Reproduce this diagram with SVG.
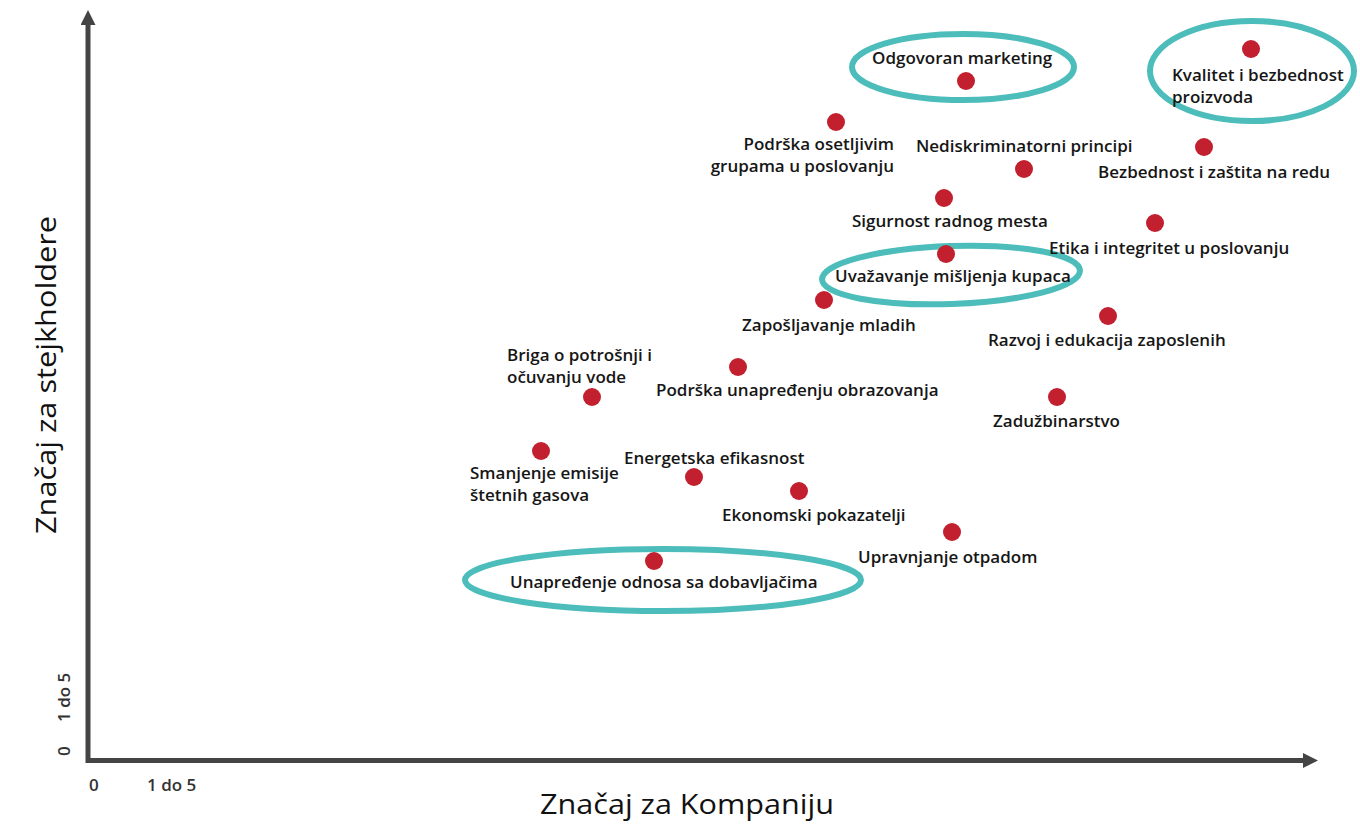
<svg xmlns="http://www.w3.org/2000/svg" width="1360" height="828" viewBox="0 0 1360 828">
<style>
.lbl{font-family:"Open Sans","Liberation Sans",sans-serif;font-weight:600;font-size:17px;fill:#161616}
.tick{font-family:"Open Sans","Liberation Sans",sans-serif;font-weight:600;font-size:17px;fill:#333}
.title{font-family:"Open Sans","Liberation Sans",sans-serif;font-size:27px;fill:#111}
.dot{fill:#c3202f}
.ring{fill:none;stroke:#4dbdbb;stroke-width:6}
.axis{stroke:#444;stroke-width:5;fill:none}
</style>
<defs>
<marker id="ah" viewBox="0 0 10 10" refX="2" refY="5" markerWidth="3.2" markerHeight="3" orient="auto" markerUnits="strokeWidth">
<path d="M0,0 L10,5 L0,10 z" fill="#444"/>
</marker>
</defs>
<rect width="1360" height="828" fill="#fff"/>
<g id="axes">
<line class="axis" x1="88" y1="763" x2="88" y2="22" marker-end="url(#ah)"/>
<line class="axis" x1="86" y1="760.5" x2="1306" y2="760.5" marker-end="url(#ah)"/>
<text class="tick" x="89" y="791">0</text>
<text class="tick" x="147" y="791">1 do 5</text>
<text class="tick" transform="translate(70,756) rotate(-90)">0</text>
<text class="tick" transform="translate(70,722) rotate(-90)">1 do 5</text>
<text class="title" text-anchor="middle" textLength="318" lengthAdjust="spacingAndGlyphs" transform="translate(56,375) rotate(-90)">Značaj za stejkholdere</text>
<text class="title" text-anchor="middle" textLength="294" lengthAdjust="spacingAndGlyphs" x="687" y="814">Značaj za Kompaniju</text>
</g>
<g id="rings">
<ellipse class="ring" cx="963" cy="67" rx="111" ry="33"/>
<ellipse class="ring" cx="1252" cy="71" rx="102" ry="50"/>
<ellipse class="ring" cx="951" cy="275" rx="129" ry="29" transform="rotate(-2 951 275)"/>
<ellipse class="ring" cx="663" cy="580" rx="198" ry="31"/>
</g>
<g id="n-odgovoran"><circle class="dot" cx="966" cy="81" r="9"/><text class="lbl" x="872" y="64">Odgovoran marketing</text></g>
<g id="n-kvalitet"><circle class="dot" cx="1251" cy="49" r="9"/><text class="lbl" x="1172" y="81">Kvalitet i bezbednost</text><text class="lbl" x="1172" y="103">proizvoda</text></g>
<g id="n-osetljivim"><circle class="dot" cx="836" cy="122" r="9"/><text class="lbl" text-anchor="end" x="894" y="150">Podrška osetljivim</text><text class="lbl" text-anchor="end" x="894" y="172">grupama u poslovanju</text></g>
<g id="n-nediskriminatorni"><circle class="dot" cx="1024" cy="169" r="9"/><text class="lbl" x="916" y="152">Nediskriminatorni principi</text></g>
<g id="n-bezbednost"><circle class="dot" cx="1204" cy="147" r="9"/><text class="lbl" x="1098" y="178">Bezbednost i zaštita na redu</text></g>
<g id="n-sigurnost"><circle class="dot" cx="944" cy="198" r="9"/><text class="lbl" x="852" y="227">Sigurnost radnog mesta</text></g>
<g id="n-etika"><circle class="dot" cx="1155" cy="223" r="9"/><text class="lbl" x="1049" y="254">Etika i integritet u poslovanju</text></g>
<g id="n-uvazavanje"><circle class="dot" cx="946" cy="254" r="9"/><text class="lbl" x="835" y="282">Uvažavanje mišljenja kupaca</text></g>
<g id="n-zaposljavanje"><circle class="dot" cx="824" cy="300" r="9"/><text class="lbl" x="742" y="331">Zapošljavanje mladih</text></g>
<g id="n-razvoj"><circle class="dot" cx="1108" cy="316" r="9"/><text class="lbl" x="988" y="346">Razvoj i edukacija zaposlenih</text></g>
<g id="n-briga"><circle class="dot" cx="592" cy="397" r="9"/><text class="lbl" x="507" y="361">Briga o potrošnji i</text><text class="lbl" x="507" y="383">očuvanju vode</text></g>
<g id="n-obrazovanje"><circle class="dot" cx="738" cy="367" r="9"/><text class="lbl" x="656" y="396">Podrška unapređenju obrazovanja</text></g>
<g id="n-zaduzbinarstvo"><circle class="dot" cx="1057" cy="397" r="9"/><text class="lbl" x="993" y="427">Zadužbinarstvo</text></g>
<g id="n-emisije"><circle class="dot" cx="541" cy="451" r="9"/><text class="lbl" x="470" y="479">Smanjenje emisije</text><text class="lbl" x="470" y="501">štetnih gasova</text></g>
<g id="n-energetska"><circle class="dot" cx="694" cy="477" r="9"/><text class="lbl" x="624" y="464">Energetska efikasnost</text></g>
<g id="n-ekonomski"><circle class="dot" cx="799" cy="491" r="9"/><text class="lbl" x="722" y="521">Ekonomski pokazatelji</text></g>
<g id="n-otpad"><circle class="dot" cx="952" cy="532" r="9"/><text class="lbl" x="858" y="563">Upravnjanje otpadom</text></g>
<g id="n-dobavljaci"><circle class="dot" cx="654" cy="561" r="9"/><text class="lbl" x="510" y="588">Unapređenje odnosa sa dobavljačima</text></g>
</svg>
